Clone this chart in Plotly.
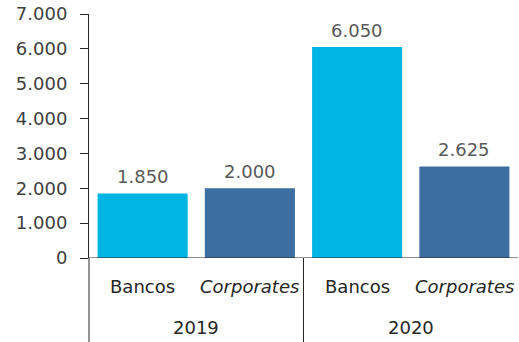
import plotly.graph_objects as go

# Emisiones por año y tipo de emisor
years = ["2019", "2020"]
categories = ["Bancos", "Corporates"]
values = {
    "2019": [1850, 2000],
    "2020": [6050, 2625],
}
colors = ["#00B5E2", "#3C6EA1"]
y_ticks = [0, 1000, 2000, 3000, 4000, 5000, 6000, 7000]

FONT = "DejaVu Sans"
AXIS_COLOR = "#262626"

xs, ys, cols, labels = [], [], [], []
pos = 0
for yr in years:
    for i, cat in enumerate(categories):
        xs.append(pos)
        ys.append(values[yr][i])
        cols.append(colors[i])
        labels.append(cat if cat == "Bancos" else f"<i>{cat}</i>")
        pos += 1

fig = go.Figure(
    go.Bar(
        x=xs,
        y=ys,
        marker=dict(color=cols, line=dict(width=0)),
        width=0.84,
        hoverinfo="skip",
    )
)

annotations = []
# valores sobre cada barra
for x, y in zip(xs, ys):
    annotations.append(dict(
        x=x, y=y, xref="x", yref="y", text=f"{y:,.0f}".replace(",", "."),
        showarrow=False, yanchor="middle", yshift=17,
        font=dict(family=FONT, size=18, color="#595959"),
    ))
# etiquetas de categoría
for x, lab in zip(xs, labels):
    annotations.append(dict(
        x=x, y=0, xref="x", yref="y", text=lab, showarrow=False,
        yanchor="middle", yshift=-28,
        font=dict(family=FONT, size=18, color="#262626"),
    ))
# etiquetas de año
n = len(categories)
for g, yr in enumerate(years):
    center = g * n + (n - 1) / 2
    annotations.append(dict(
        x=center, y=0, xref="x", yref="y", text=yr, showarrow=False,
        yanchor="middle", yshift=-69,
        font=dict(family=FONT, size=18, color="#262626"),
    ))

shapes = [
    # eje x
    dict(type="line", xref="paper", yref="y", x0=0, x1=1, y0=0, y1=0,
         line=dict(color=AXIS_COLOR, width=1)),
    # prolongación del eje y bajo las etiquetas
    dict(type="line", xref="paper", yref="paper", x0=0, x1=0, y0=0, y1=-0.36,
         line=dict(color=AXIS_COLOR, width=1)),
]
for g in range(1, len(years)):
    xb = g * n - 0.5
    shapes.append(dict(type="line", xref="x", yref="paper", x0=xb, x1=xb,
                       y0=0, y1=-0.36, line=dict(color=AXIS_COLOR, width=1)))

fig.update_layout(
    width=519, height=342,
    margin=dict(l=89, r=1, t=14, b=84),
    paper_bgcolor="white", plot_bgcolor="white",
    separators=",.",
    showlegend=False,
    annotations=annotations,
    shapes=shapes,
    xaxis=dict(range=[-0.5, len(xs) - 0.5], showticklabels=False,
               showgrid=False, zeroline=False, showline=False, ticks=""),
    yaxis=dict(range=[0, 7000], tickvals=y_ticks, tickformat=",d",
               showgrid=False, zeroline=False, showline=True,
               linecolor=AXIS_COLOR, linewidth=1, ticks="outside",
               ticklen=8, tickcolor=AXIS_COLOR, ticklabelstandoff=9,
               tickfont=dict(family=FONT, size=18, color="#404040")),
)

fig.write_html("out.html")
